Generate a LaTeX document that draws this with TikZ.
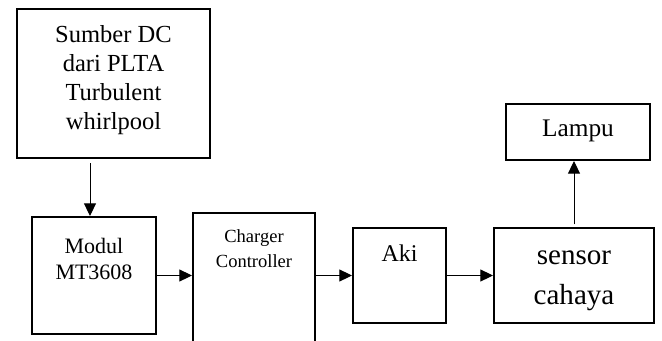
\documentclass[tikz,border=0pt]{standalone}
\usepackage{fontspec}
\setmainfont{Liberation Serif}
\usetikzlibrary{arrows.meta,positioning}

\tikzset{
  blok/.style={draw, line width=1.5pt, inner sep=0pt},
  teks/.style={align=center, inner sep=0pt},
  panah/.style={line width=0.75pt, -{Triangle[length=9.5pt,width=9pt]}},
}

\begin{document}
\begin{tikzpicture}[x=0.75pt,y=-0.75pt]
\clip (0,0) rectangle (662,340);

% blok
\node[blok, minimum width=144.75pt, minimum height=111.75pt] (sumber) at (113.5,83.5) {};
\node[blok, minimum width=93pt, minimum height=87.75pt] (modul) at (94,275.5) {};
\node[blok, minimum width=91.5pt, minimum height=125.25pt] (charger) at (254,296.5) {};
\node[blok, minimum width=69.75pt, minimum height=71.25pt] (aki) at (399.5,275.5) {};
\node[blok, minimum width=120pt, minimum height=71.25pt] (sensor) at (574,275.5) {};
\node[blok, minimum width=108pt, minimum height=42pt] (lampu) at (578,132) {};

% teks
\node[teks, font=\fontsize{18.4}{21.75}\selectfont, below=13pt of sumber.north] (sumber-t) {Sumber DC\\dari PLTA\\Turbulent\\whirlpool};
\node[teks, font=\fontsize{16.5}{19.5}\selectfont, below=16.5pt of modul.north] (modul-t) {Modul\\MT3608};
\node[teks, font=\fontsize{13.9}{18.75}\selectfont, below=12.75pt of charger.north] (charger-t) {Charger\\Controller};
\node[teks, font=\fontsize{18}{21}\selectfont, below=13.2pt of aki.north] (aki-t) {Aki};
\node[teks, font=\fontsize{21.8}{30}\selectfont, below=18pt of sensor.north] (sensor-t) {sensor\\cahaya};
\node[teks, font=\fontsize{19}{22}\selectfont, below=12.4pt of lampu.north] (lampu-t) {Lampu};

% panah
\coordinate (masuk) at ([xshift=-3pt]modul.north);
\draw[panah, shorten <=3pt] (sumber.south -| masuk) -- (masuk);
\draw[panah] (modul.east) -- (modul.east -| charger.west);
\draw[panah] (charger.east |- aki.west) -- (aki.west);
\draw[panah] (aki.east) -- (sensor.west);
\draw[panah, shorten <=2pt] (sensor.north) -- (sensor.north |- lampu.south);

\end{tikzpicture}
\end{document}
